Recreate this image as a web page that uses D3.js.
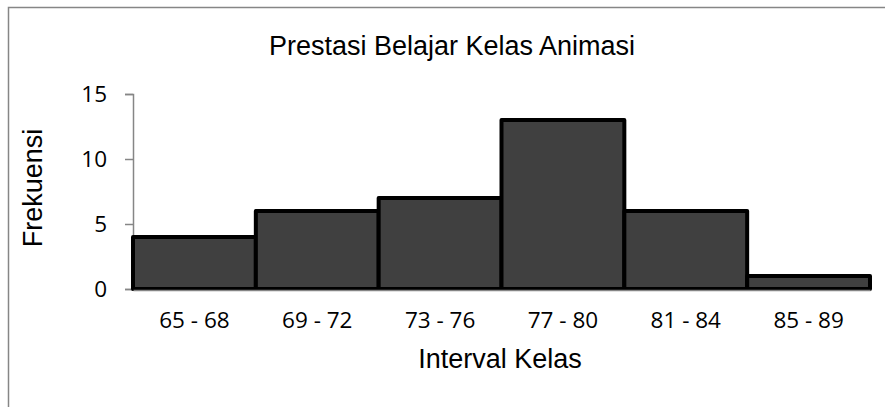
<!DOCTYPE html>
<html>
<head>
<meta charset="utf-8">
<script src="https://cdn.jsdelivr.net/npm/d3@7"></script>
<style>
	body { margin: 0; background: #fff; }
	svg { display: block; }
</style>
</head>
<body>
<svg id="chart" width="885" height="407"></svg>
<script>
var categories = ["65 - 68", "69 - 72", "73 - 76", "77 - 80", "81 - 84", "85 - 89"];
var frekuensi = [4, 6, 7, 13, 6, 1];
var yTicks = [0, 5, 10, 15];

var svg = d3.select('#chart');

// chart frame (cut at right and bottom like the screenshot)
svg.append('rect')
	.attr('x', 8.5)
	.attr('y', 7.5)
	.attr('width', 900)
	.attr('height', 420)
	.attr('fill', 'none')
	.attr('stroke', '#868686')
	.attr('stroke-width', 1.5);

var plotLeft = 133, plotRight = 870, plotTop = 94, plotBottom = 289;

var x = d3.scaleBand()
	.domain(categories)
	.range([plotLeft, plotRight])
	.padding(0);

var y = d3.scaleLinear()
	.domain([0, 15])
	.range([plotBottom, plotTop]);

// axes
var yAxis = svg.append('g')
	.attr('transform', 'translate(' + plotLeft + ',0)')
	.call(d3.axisLeft(y).tickValues(yTicks).tickSize(8).tickSizeOuter(8).tickPadding(18));
yAxis.select('.domain').attr('stroke', '#868686').attr('stroke-width', 1.5);
yAxis.selectAll('.tick line').attr('stroke', '#868686').attr('stroke-width', 1.5);
yAxis.selectAll('.tick text')
	.attr('fill', '#000')
	.style('font-family', '"Open Sans", sans-serif')
	.style('font-size', '22.5px');

// bars
svg.append('g').selectAll('rect')
	.data(frekuensi)
	.join('rect')
	.attr('x', function(d, i) { return x(categories[i]); })
	.attr('y', function(d) { return y(d); })
	.attr('width', x.bandwidth())
	.attr('height', function(d) { return y(0) - y(d); })
	.attr('fill', '#404040')
	.attr('stroke', '#000')
	.attr('stroke-width', 4)
	.attr('stroke-linejoin', 'round');

var xAxis = svg.append('g')
	.attr('transform', 'translate(0,' + (plotBottom + 1) + ')')
	.call(d3.axisBottom(x).tickSize(0).tickPadding(22));
xAxis.select('.domain').attr('stroke', '#868686').attr('stroke-width', 1.5);
xAxis.selectAll('.tick text')
	.attr('fill', '#000')
	.style('font-family', '"Open Sans", sans-serif')
	.style('font-size', '22.5px');

// title and axis titles
svg.append('text')
	.attr('x', 452)
	.attr('y', 55)
	.attr('text-anchor', 'middle')
	.style('font-family', '"Liberation Sans", Arial, sans-serif')
	.style('font-size', '27px')
	.text('Prestasi Belajar Kelas Animasi');

svg.append('text')
	.attr('transform', 'translate(42,' + 188 + ') rotate(-90)')
	.attr('text-anchor', 'middle')
	.style('font-family', '"Liberation Sans", Arial, sans-serif')
	.style('font-size', '27px')
	.text('Frekuensi');

svg.append('text')
	.attr('x', 500)
	.attr('y', 368)
	.attr('text-anchor', 'middle')
	.style('font-family', '"Liberation Sans", Arial, sans-serif')
	.style('font-size', '27px')
	.text('Interval Kelas');
</script>
</body>
</html>
